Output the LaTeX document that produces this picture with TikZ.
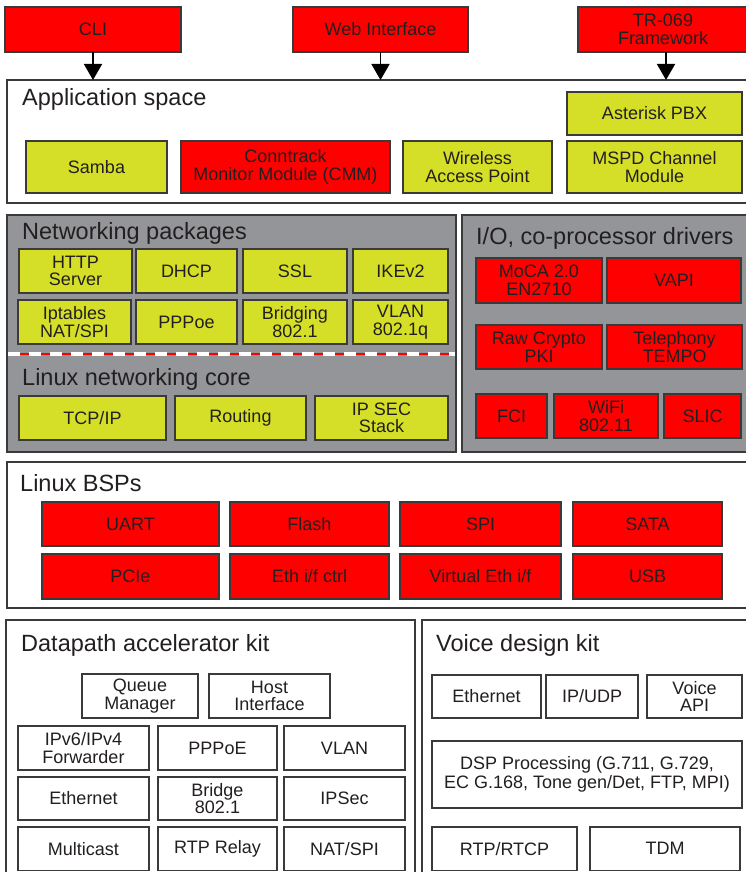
\documentclass[tikz,border=0pt]{standalone}
\usepackage{fontspec}
\setmainfont{Liberation Sans}
\usetikzlibrary{arrows.meta}
\definecolor{rd}{HTML}{FF0000}
\definecolor{yg}{HTML}{D5DF27}
\definecolor{gp}{HTML}{939598}
\definecolor{bd}{HTML}{3A3A3A}
\definecolor{tx}{HTML}{231F20}
\newcommand\bx[7]{\node[#1,anchor=north west,minimum width={(#4-#2)*1pt},minimum height={(#5-#3)*1pt}] (#6) at (#2,#3) {#7};}
\tikzset{
  box/.style={draw=bd, line width=1.1pt, inner sep=0pt, outer sep=0pt, align=center,
    font=\fontsize{18}{17.5}\selectfont, text=tx},
  rbox/.style={box, fill=rd},
  ybox/.style={box, fill=yg},
  wbox/.style={box, fill=white},
  panel/.style={draw=bd, line width=1.5pt, inner sep=0pt, outer sep=0pt},
  lbl/.style={anchor=base west, inner sep=0pt, font=\fontsize{23.5}{26}\selectfont, text=tx},
  arr/.style={line width=1.6pt, -{Triangle[length=16pt,width=18pt]}}
}
\begin{document}
\begin{tikzpicture}[x=1pt,y=-1pt]
\fill[white] (0,0) rectangle (746,872);
\useasboundingbox (0,0) rectangle (746,872);
% top interfaces
\bx{rbox}{5}{7}{181}{52}{cli}{CLI}
\bx{rbox}{293}{7}{468}{52}{web}{Web Interface}
\bx{rbox}{578}{7}{748}{52}{tr}{TR-069\\Framework}
% application space
\bx{panel,fill=white}{7}{80}{748}{203}{app}{}
\node[lbl] (applbl) at (22,106) {Application space};
\draw[arr] (cli.south) -- (cli.south |- app.north);
\draw[arr] (web.south) -- (web.south |- app.north);
\draw[arr] ([xshift=3pt]tr.south) -- ([xshift=3pt]tr.south |- app.north);
\bx{ybox}{567}{92}{742}{135}{ast}{Asterisk PBX}
\bx{ybox}{26}{141}{167}{193}{samba}{Samba}
\bx{rbox}{181}{141}{390}{193}{cmm}{Conntrack\\Monitor Module (CMM)}
\bx{ybox}{403}{141}{552}{193}{wap}{Wireless\\Access Point}
\bx{ybox}{567}{141}{742}{193}{mspd}{MSPD Channel\\Module}
% networking packages
\bx{panel,fill=gp}{7}{215}{456}{452}{net}{}
\node[lbl] (netlbl) at (22,239) {Networking packages};
\bx{ybox}{19}{249}{132}{293}{http}{HTTP\\Server}
\bx{ybox}{136}{249}{237}{293}{dhcp}{DHCP}
\bx{ybox}{243}{249}{347}{293}{ssl}{SSL}
\bx{ybox}{353}{249}{448}{293}{ike}{IKEv2}
\bx{ybox}{18}{300}{131}{344}{ipt}{Iptables\\NAT/SPI}
\bx{ybox}{136}{300}{237}{344}{pppoe}{PPPoe}
\bx{ybox}{243}{300}{347}{344}{brg}{Bridging\\802.1}
\bx{ybox}{353}{300}{448}{344}{vlan}{VLAN\\802.1q}
\coordinate (dl) at (7.8,354);
\coordinate (dr) at (455.2,354);
\draw[rd, line width=1.3pt] (dl) -- (dr);
\draw[white, line width=3.5pt, dash pattern=on 12pt off 9pt] (dl) -- (dr);
\node[lbl] (corelbl) at (22,385) {Linux networking core};
\bx{ybox}{19}{396}{166}{440}{tcp}{TCP/IP}
\bx{ybox}{175}{396}{306}{440}{rout}{Routing}
\bx{ybox}{315}{396}{448}{440}{ipsec}{IP SEC\\Stack}
% I/O drivers
\bx{panel,fill=gp}{462}{215}{748}{452}{io}{}
\node[lbl] (iolbl) at (476,244) {I/O, co-processor drivers};
\bx{rbox}{476}{258}{602}{303}{moca}{MoCA 2.0\\EN2710}
\bx{rbox}{607}{258}{741}{303}{vapi}{VAPI}
\bx{rbox}{476}{325}{602}{369}{raw}{Raw Crypto\\PKI}
\bx{rbox}{607}{325}{742}{369}{tel}{Telephony\\TEMPO}
\bx{rbox}{476}{394}{547}{438}{fci}{FCI}
\bx{rbox}{554}{394}{658}{438}{wifi}{WiFi\\802.11}
\bx{rbox}{664}{394}{741}{438}{slic}{SLIC}
% BSPs
\bx{panel,fill=white}{7}{462}{748}{608}{bsp}{}
\node[lbl] (bsplbl) at (20,491) {Linux BSPs};
\bx{rbox}{42}{502}{219}{546}{uart}{UART}
\bx{rbox}{230}{502}{389}{546}{flash}{Flash}
\bx{rbox}{400}{502}{561}{546}{spi}{SPI}
\bx{rbox}{573}{502}{722}{546}{sata}{SATA}
\bx{rbox}{42}{554}{219}{599}{pcie}{PCIe}
\bx{rbox}{230}{554}{389}{599}{eth}{Eth i/f ctrl}
\bx{rbox}{400}{554}{561}{599}{veth}{Virtual Eth i/f}
\bx{rbox}{573}{554}{722}{599}{usb}{USB}
% Datapath accelerator kit
\bx{panel,fill=white}{6}{620}{415}{885}{dpk}{}
\node[lbl] (dpklbl) at (21,651) {Datapath accelerator kit};
\bx{wbox}{82}{674}{198}{718}{qm}{Queue\\Manager}
\bx{wbox}{209}{674}{330}{718}{hi}{Host\\Interface}
\bx{wbox}{18}{726}{149}{770}{fwd}{IPv6/IPv4\\Forwarder}
\bx{wbox}{158}{726}{277}{770}{dppp}{PPPoE}
\bx{wbox}{284}{726}{405}{770}{dvlan}{VLAN}
\bx{wbox}{18}{777}{149}{820}{deth}{Ethernet}
\bx{wbox}{158}{777}{277}{820}{dbr}{Bridge\\802.1}
\bx{wbox}{284}{777}{405}{820}{dips}{IPSec}
\bx{wbox}{18}{827}{149}{870.5}{mc}{Multicast}
\bx{wbox}{158}{827}{277}{870.5}{rtpr}{RTP Relay}
\bx{wbox}{284}{827}{405}{870.5}{nat}{NAT/SPI}
% Voice design kit
\bx{panel,fill=white}{422}{620}{748}{885}{vdk}{}
\node[lbl] (vdklbl) at (436,651) {Voice design kit};
\bx{wbox}{432}{675}{541}{718}{veth2}{Ethernet}
\bx{wbox}{546}{675}{638}{718}{ipudp}{IP/UDP}
\bx{wbox}{647}{675}{742}{718}{vapi2}{Voice\\API}
\bx{wbox}{432}{741}{742}{808}{dsp}{DSP Processing (G.711, G.729,\\[1.5pt]EC G.168, Tone gen/Det, FTP, MPI)}
\bx{wbox}{432}{827}{577}{870.5}{rtp}{RTP/RTCP}
\bx{wbox}{590}{827}{740}{870.5}{tdm}{TDM}
\end{tikzpicture}
\end{document}
